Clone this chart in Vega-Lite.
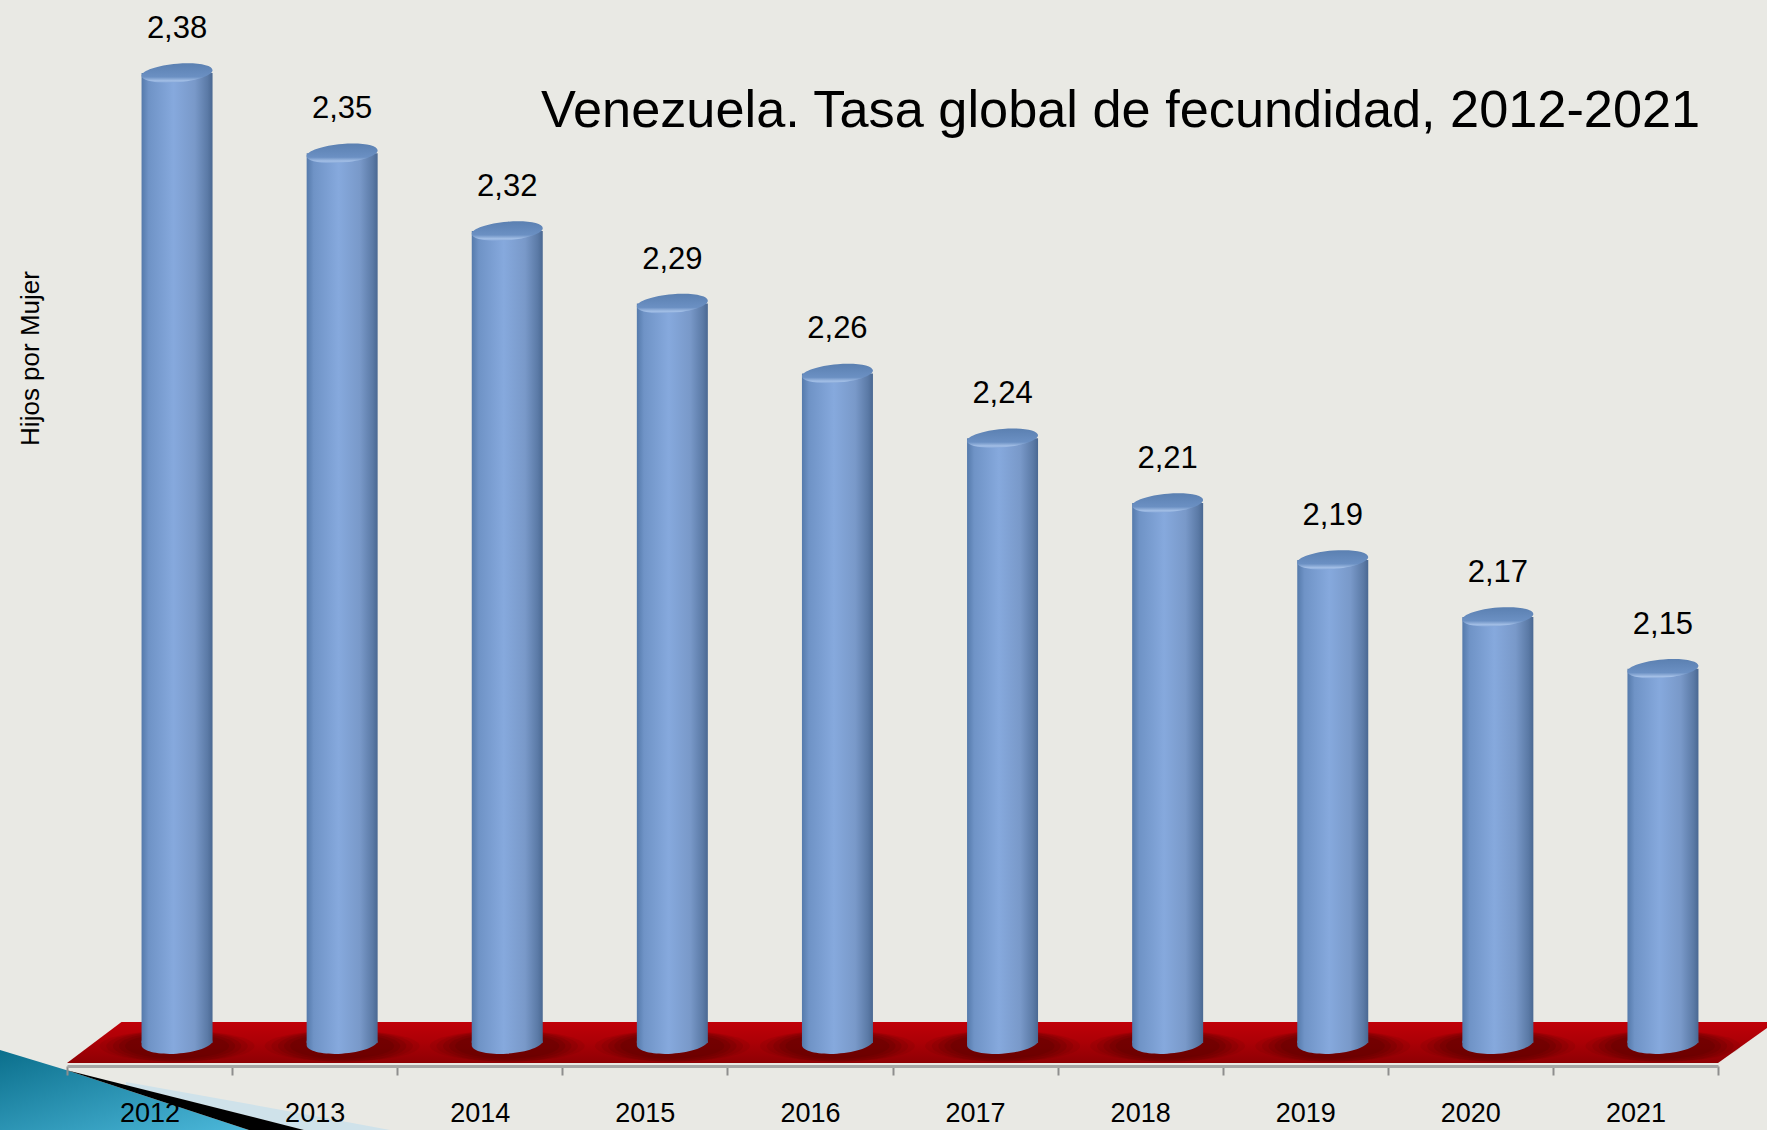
{
"$schema":"https://vega.github.io/schema/vega-lite/v6.json",
"width":1651,"height":1066,
"autosize":{"type":"none"},
"padding":{"left":67,"right":49,"top":0,"bottom":64},
"background":"#e9e9e4",
"config":{"view":{"stroke":null},"font":"Liberation Sans"},
"title":{"text":"Venezuela. Tasa global de fecundidad, 2012-2021","font":"Liberation Sans","fontSize":52.3,"fontWeight":"normal","color":"#000000","anchor":"start","orient":"top","offset":-138,"dx":541},
"datasets":{
"anual":[
{"anio":"2012","tasa":2.380,"etiqueta":"2,38"},
{"anio":"2013","tasa":2.349,"etiqueta":"2,35"},
{"anio":"2014","tasa":2.319,"etiqueta":"2,32"},
{"anio":"2015","tasa":2.291,"etiqueta":"2,29"},
{"anio":"2016","tasa":2.264,"etiqueta":"2,26"},
{"anio":"2017","tasa":2.239,"etiqueta":"2,24"},
{"anio":"2018","tasa":2.214,"etiqueta":"2,21"},
{"anio":"2019","tasa":2.192,"etiqueta":"2,19"},
{"anio":"2020","tasa":2.170,"etiqueta":"2,17"},
{"anio":"2021","tasa":2.150,"etiqueta":"2,15"}],
"plano":[
{"t":2012,"sup":1.9978,"inf":1.9978},
{"t":2012.33,"sup":2.0136,"inf":1.9978},
{"t":2022,"sup":2.0136,"inf":1.9978},
{"t":2022.297,"sup":2.0136,"inf":2.0113}],
"cuna":[
{"t":2011.594,"sup":2.0028,"inf":1.9719},
{"t":2011.994,"sup":1.9951,"inf":1.9719},
{"t":2013.102,"sup":1.9719,"inf":1.9719}],
"franja":[
{"t":2012.357,"sup":1.9904,"inf":1.9892},
{"t":2013.435,"sup":1.9781,"inf":1.9719},
{"t":2013.956,"sup":1.9719,"inf":1.9719}],
"banda":[
{"t":2011.994,"sup":1.9951,"inf":1.9951},
{"t":2013.102,"sup":1.9773,"inf":1.9719},
{"t":2013.435,"sup":1.9719,"inf":1.9719}]
},
"resolve":{"scale":{"x":"independent"}},
"layer":[
{"data":{"name":"cuna"},
 "mark":{"type":"area","orient":"vertical","fill":{"gradient":"linear","x1":0,"y1":0,"x2":1,"y2":1,"stops":[{"offset":0,"color":"#0b6f8c"},{"offset":1,"color":"#4cb8da"}]}},
 "encoding":{"x":{"field":"t","type":"quantitative","axis":null,"scale":{"domain":[2012,2022]}},"y":{"field":"sup","type":"quantitative","scale":{"domain":[1.9966,2.4082],"nice":false,"zero":false},
  "axis":{"title":"Hijos por Mujer","titleFont":"Liberation Sans","titleFontSize":26,"titleFontWeight":"normal","titleColor":"#000000","titleX":-24,"titleY":358,"titleAlign":"center","labels":false,"ticks":false,"domain":false,"grid":false}},"y2":{"field":"inf"}}},
{"data":{"name":"franja"},
 "mark":{"type":"area","orient":"vertical","fill":"#cfe2ea"},
 "encoding":{"x":{"field":"t","type":"quantitative","axis":null,"scale":{"domain":[2012,2022]}},"y":{"field":"sup","type":"quantitative"},"y2":{"field":"inf"}}},
{"data":{"name":"banda"},
 "mark":{"type":"area","orient":"vertical","fill":"#000000"},
 "encoding":{"x":{"field":"t","type":"quantitative","axis":null,"scale":{"domain":[2012,2022]}},"y":{"field":"sup","type":"quantitative"},"y2":{"field":"inf"}}},
{"data":{"name":"plano"},
 "mark":{"type":"area","orient":"vertical","fill":{"gradient":"linear","x1":0,"y1":0,"x2":0,"y2":1,"stops":[{"offset":0,"color":"#c00008"},{"offset":0.45,"color":"#ad0006"},{"offset":1,"color":"#8f0004"}]}},
 "encoding":{"x":{"field":"t","type":"quantitative","axis":null,"scale":{"domain":[2012,2022]}},"y":{"field":"sup","type":"quantitative"},"y2":{"field":"inf"}}},
{"data":{"name":"anual"},
 "mark":{"type":"point","filled":true,"shape":"M-1,0 A1,0.2 0 1 1 1,0 A1,0.2 0 1 1 -1,0 Z","size":24000,"color":"#5c0000","opacity":0.12,"xOffset":27.5},
 "encoding":{"x":{"field":"anio","type":"nominal","axis":null,"scale":{"domain":["2012","2013","2014","2015","2016","2017","2018","2019","2020","2021"],"type":"band","paddingInner":0,"paddingOuter":0}},"y":{"datum":2.0043,"type":"quantitative"}}},
{"data":{"name":"anual"},
 "mark":{"type":"point","filled":true,"shape":"M-1,0 A1,0.22 0 1 1 1,0 A1,0.22 0 1 1 -1,0 Z","size":20000,"color":"#5c0000","opacity":0.16,"xOffset":27.5},
 "encoding":{"x":{"field":"anio","type":"nominal","axis":null,"scale":{"domain":["2012","2013","2014","2015","2016","2017","2018","2019","2020","2021"],"type":"band","paddingInner":0,"paddingOuter":0}},"y":{"datum":2.0043,"type":"quantitative"}}},
{"data":{"name":"anual"},
 "mark":{"type":"point","filled":true,"shape":"M-1,0 A1,0.24 0 1 1 1,0 A1,0.24 0 1 1 -1,0 Z","size":16500,"color":"#5c0000","opacity":0.2,"xOffset":27.5},
 "encoding":{"x":{"field":"anio","type":"nominal","axis":null,"scale":{"domain":["2012","2013","2014","2015","2016","2017","2018","2019","2020","2021"],"type":"band","paddingInner":0,"paddingOuter":0}},"y":{"datum":2.0043,"type":"quantitative"}}},
{"data":{"name":"anual"},
 "mark":{"type":"point","filled":true,"shape":"M-1,0 A1,0.24 0 1 1 1,0 A1,0.24 0 1 1 -1,0 Z","size":13500,"color":"#5c0000","opacity":0.25,"xOffset":27.5},
 "encoding":{"x":{"field":"anio","type":"nominal","axis":null,"scale":{"domain":["2012","2013","2014","2015","2016","2017","2018","2019","2020","2021"],"type":"band","paddingInner":0,"paddingOuter":0}},"y":{"datum":2.0043,"type":"quantitative"}}},
{"data":{"name":"anual"},
 "mark":{"type":"point","filled":true,"shape":"M-1,0 A1,0.24 0 1 1 1,0 A1,0.24 0 1 1 -1,0 Z","size":10800,"color":"#5c0000","opacity":0.3,"xOffset":27.5},
 "encoding":{"x":{"field":"anio","type":"nominal","axis":null,"scale":{"domain":["2012","2013","2014","2015","2016","2017","2018","2019","2020","2021"],"type":"band","paddingInner":0,"paddingOuter":0}},"y":{"datum":2.0043,"type":"quantitative"}}},
{"data":{"name":"anual"},
 "mark":{"type":"point","filled":true,"shape":"M-1,0.06 A1,0.3 -4 1 0 1,-0.06 L-1,-0.06 Z","size":5041,"xOffset":27.5,"opacity":1,"fill":{"gradient":"linear","x1":0,"y1":0,"x2":1,"y2":0,"stops":[{"offset":0,"color":"#557aab"},{"offset":0.1,"color":"#6f93c6"},{"offset":0.45,"color":"#86a9dd"},{"offset":0.75,"color":"#7999c9"},{"offset":1,"color":"#4f6f99"}]}},
 "encoding":{"x":{"field":"anio","type":"nominal","axis":null,"scale":{"domain":["2012","2013","2014","2015","2016","2017","2018","2019","2020","2021"],"type":"band","paddingInner":0,"paddingOuter":0}},"y":{"datum":2.0055,"type":"quantitative"}}},
{"data":{"name":"anual"},
 "mark":{"type":"bar","width":71,"xOffset":27.5,"fill":{"gradient":"linear","x1":0,"y1":0,"x2":1,"y2":0,"stops":[{"offset":0,"color":"#557aab"},{"offset":0.1,"color":"#6f93c6"},{"offset":0.45,"color":"#86a9dd"},{"offset":0.75,"color":"#7999c9"},{"offset":0.93,"color":"#5b7aa6"},{"offset":1,"color":"#4a6892"}]}},
 "encoding":{"x":{"field":"anio","type":"nominal","title":null,"scale":{"domain":["2012","2013","2014","2015","2016","2017","2018","2019","2020","2021"],"type":"band","paddingInner":0,"paddingOuter":0},
   "axis":{"zindex":1,"tickBand":"extent","labelAngle":0,"labelFont":"Liberation Sans","labelFontSize":27,"labelColor":"#000000","labelPadding":25,"tickColor":"#8e8e8e","tickWidth":2,"tickSize":9,"domainColor":"#a6a6a6","domainWidth":3,"grid":false}},
  "y":{"field":"tasa","type":"quantitative"},
  "y2":{"datum":2.0055}}},
{"data":{"name":"anual"},
 "mark":{"type":"point","filled":true,"shape":"M-1,0.08 A1,0.26 -5 1 1 1,-0.08 A1,0.26 -5 1 1 -1,0.08 Z","size":5041,"xOffset":27.5,"opacity":1,"fill":{"gradient":"linear","x1":0,"y1":0,"x2":0,"y2":1,"stops":[{"offset":0,"color":"#5b80b1"},{"offset":0.7,"color":"#6b90c3"},{"offset":0.9,"color":"#a3bfe6"},{"offset":1,"color":"#84a6d8"}]}},
 "encoding":{"x":{"field":"anio","type":"nominal","axis":null,"scale":{"domain":["2012","2013","2014","2015","2016","2017","2018","2019","2020","2021"],"type":"band","paddingInner":0,"paddingOuter":0}},"y":{"field":"tasa","type":"quantitative"}}},
{"data":{"name":"anual"},
 "mark":{"type":"text","font":"Liberation Sans","fontSize":31,"color":"#000000","xOffset":27.5,"dy":-44,"baseline":"middle","align":"center"},
 "encoding":{"x":{"field":"anio","type":"nominal","axis":null,"scale":{"domain":["2012","2013","2014","2015","2016","2017","2018","2019","2020","2021"],"type":"band","paddingInner":0,"paddingOuter":0}},"y":{"field":"tasa","type":"quantitative"},"text":{"field":"etiqueta","type":"nominal"}}}
]
}
